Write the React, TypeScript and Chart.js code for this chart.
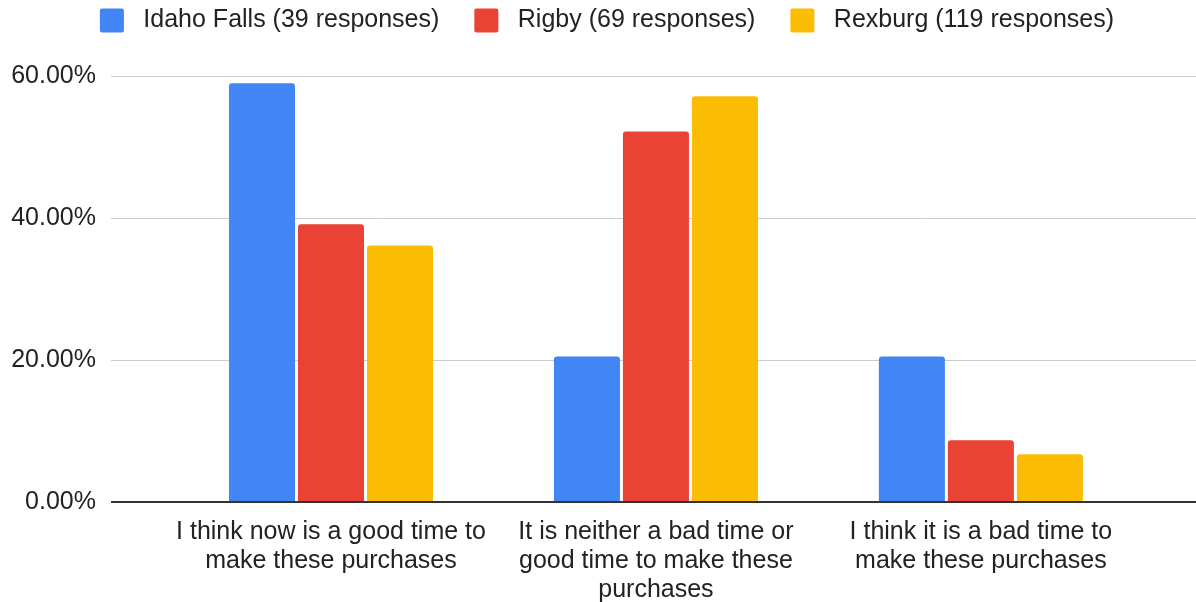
import React, { useEffect, useRef } from "react";
import { Chart, registerables } from "chart.js";
Chart.register(...registerables);

const categories: string[][] = [
  ["I think now is a good time to", "make these purchases"],
  ["It is neither a bad time or", "good time to make these", "purchases"],
  ["I think it is a bad time to", "make these purchases"],
];
const seriesNames: string[] = [
  "Idaho Falls (39 responses)",
  "Rigby (69 responses)",
  "Rexburg (119 responses)",
];
const idahoFalls: number[] = [58.97, 20.51, 20.51];
const rigby: number[] = [39.13, 52.17, 8.7];
const rexburg: number[] = [36.13, 57.14, 6.72];
const yTicks: number[] = [0, 20, 40, 60];

export default function App() {
  const ref = useRef<HTMLCanvasElement | null>(null);

  useEffect(() => {
    if (!ref.current) return;
    const font = "Arial, 'Liberation Sans', sans-serif";
    const colors = ["#4285F4", "#EA4335", "#FBBC04"];
    const series = [idahoFalls, rigby, rexburg];
    const legendShift = {
      id: "legendShift",
      afterLayout(chart: any) {
        const lg = chart.legend;
        if (lg) {
          lg.top -= 33;
          lg.bottom -= 33;
          lg.left += 9;
          lg.right += 9;
        }
      },
    };
    const chart = new Chart(ref.current, {
      type: "bar",
      data: {
        datasets: series.map((vals, si) => ({
          label: seriesNames[si],
          data: vals.map((v, i) => ({ x: i, y: v })),
          backgroundColor: colors[si],
          borderWidth: 0,
          borderRadius: { topLeft: 3, topRight: 3, bottomLeft: 0, bottomRight: 0 },
          borderSkipped: false,
          categoryPercentage: 0.637,
          barPercentage: 0.957,
        })),
      },
      options: {
        animation: false,
        responsive: true,
        maintainAspectRatio: false,
        layout: { padding: { top: 6, right: 0, left: 0, bottom: 0 } },
        plugins: {
          tooltip: { enabled: false },
          legend: {
            position: "top",
            labels: {
              font: { family: font, size: 25 },
              color: "#222",
              boxWidth: 24,
              boxHeight: 24,
              padding: 35,
              useBorderRadius: true,
              borderRadius: 2,
              generateLabels: (c: any) =>
                (Chart as any).defaults.plugins.legend.labels
                  .generateLabels(c)
                  .map((l: any) => ({ ...l, text: " " + l.text })),
            },
          },
        },
        scales: {
          x: {
            type: "linear",
            min: -0.677,
            max: 2.662,
            offset: false,
            afterBuildTicks: (s: any) => {
              s.ticks = categories.map((_, i) => ({ value: i }));
            },
            afterFit: (s: any) => {
              s.height = 100;
            },
            ticks: {
              autoSkip: false,
              maxRotation: 0,
              minRotation: 0,
              padding: 16,
              color: "#222",
              font: { family: font, size: 25, lineHeight: 1.16 },
              callback: (v: any) => categories[Math.round(Number(v))] ?? "",
            },
            grid: { display: false, drawTicks: false },
            border: { display: false },
          },
          y: {
            min: 0,
            max: 60,
            afterBuildTicks: (s: any) => {
              s.ticks = yTicks.map((v) => ({ value: v }));
            },
            afterFit: (s: any) => {
              s.width = 111;
            },
            ticks: {
              padding: 15,
              color: "#222",
              font: { family: font, size: 25 },
              callback: (v: any) => Number(v).toFixed(2) + "%",
            },
            grid: {
              drawTicks: false,
              color: (c: any) => (c.tick && c.tick.value === 0 ? "#333" : "#ccc"),
              lineWidth: (c: any) => (c.tick && c.tick.value === 0 ? 2 : 1),
            },
            border: { display: false },
          },
        },
      },
      plugins: [legendShift],
    });
    return () => chart.destroy();
  }, []);

  return (
    <div style={{ position: "fixed", left: 0, top: 0, width: 1196, height: 602, background: "#fff" }}>
      <canvas ref={ref} />
    </div>
  );
}
